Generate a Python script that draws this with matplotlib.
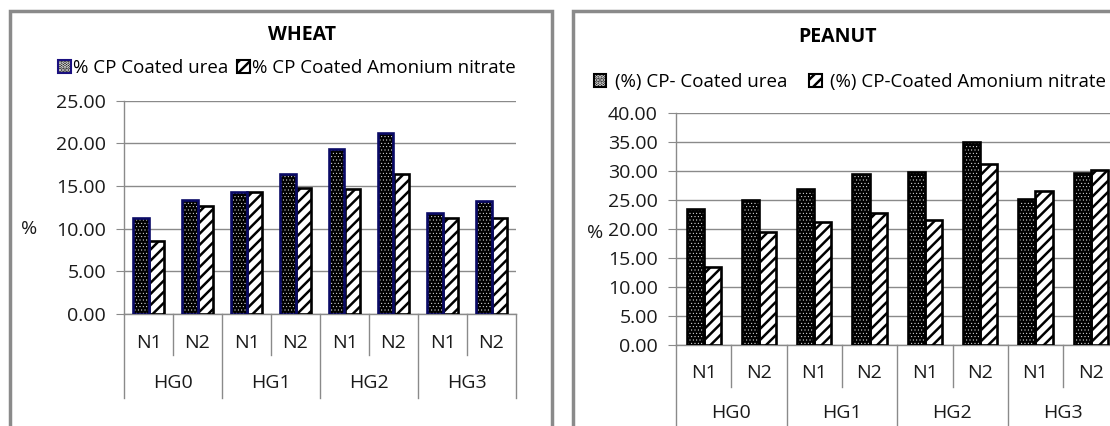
import numpy as np
import matplotlib
matplotlib.use('Agg')
import matplotlib.pyplot as plt
import matplotlib.patches as mpatches
from matplotlib.lines import Line2D

plt.rcParams['font.family'] = ['Open Sans', 'DejaVu Sans']
plt.rcParams['hatch.linewidth'] = 1.8

# ---- data ----
n_labels = ['N1', 'N2', 'N1', 'N2', 'N1', 'N2', 'N1', 'N2']
hg_labels = ['HG0', 'HG1', 'HG2', 'HG3']

wheat_urea = [11.2, 13.4, 14.3, 16.4, 19.3, 21.2, 11.8, 13.2]
wheat_an = [8.6, 12.7, 14.3, 14.8, 14.6, 16.4, 11.3, 11.3]

peanut_urea = [23.5, 25.0, 26.8, 29.4, 29.8, 35.0, 25.1, 29.6]
peanut_an = [13.4, 19.4, 21.1, 22.7, 21.6, 31.1, 26.6, 30.2]

W, H = 1110, 426
fig = plt.figure(figsize=(W / 100, H / 100), dpi=100)
fig.patch.set_facecolor('white')

def fx(px):
    return px / W

def fy(py):
    return 1 - py / H

GRAY = '#8a8a8a'
FS = 14
LFS = 13.5
TXT = '#1a1a1a'

# chart frames (cut off at bottom / right like the source image)
fig.patches.append(mpatches.Rectangle((fx(10), -0.1), fx(552 - 10), fy(11) + 0.1,
                                      transform=fig.transFigure, fill=False,
                                      edgecolor=GRAY, linewidth=2.5))
fig.patches.append(mpatches.Rectangle((fx(573), -0.1), fx(700), fy(11) + 0.1,
                                      transform=fig.transFigure, fill=False,
                                      edgecolor=GRAY, linewidth=2.5))


def hatch_lw(patches, lw):
    for p in patches:
        if hasattr(p, 'set_hatch_linewidth'):
            p.set_hatch_linewidth(lw)


def draw_panel(rect, urea, an, ymax, urea_edge, sep_short, sep_long, n_off, hg_off):
    ax = fig.add_axes(rect)
    x = np.arange(len(urea)) + 0.5
    bw = 0.31
    dots = ax.bar(x - bw / 2, urea, bw, color='black', edgecolor='white',
                  hatch='.....', linewidth=0, zorder=3)
    hatch_lw(dots, 0.3)
    ax.bar(x - bw / 2, urea, bw, fill=False, edgecolor=urea_edge, linewidth=1.9, zorder=4)
    lines = ax.bar(x + bw / 2, an, bw, facecolor='white', edgecolor='black',
                   hatch='///', linewidth=1.9, zorder=3)
    hatch_lw(lines, 1.8)

    ax.set_xlim(0, len(urea))
    ax.set_ylim(0, ymax)
    ax.set_yticks(np.arange(0, ymax + 0.1, 5))
    ax.set_yticklabels(['%.2f' % v for v in np.arange(0, ymax + 0.1, 5)])
    ax.yaxis.grid(True, color=GRAY, linewidth=1)
    ax.set_axisbelow(True)
    ax.tick_params(axis='y', length=6, color=GRAY, pad=7, labelsize=FS, labelcolor=TXT)
    ax.set_xticks([])
    for s in ['top', 'right']:
        ax.spines[s].set_visible(False)
    for s in ['left', 'bottom']:
        ax.spines[s].set_color(GRAY)
        ax.spines[s].set_linewidth(1)

    tr = ax.get_xaxis_transform()
    for i in range(len(urea) + 1):
        y1 = sep_long if i % 2 == 0 else sep_short
        ax.add_line(Line2D([i, i], [0, y1], transform=tr, color=GRAY,
                           linewidth=1, clip_on=False))
    for i, lab in enumerate(n_labels):
        ax.text(i + 0.5, n_off, lab, transform=tr, ha='center', va='center',
                fontsize=FS, color=TXT)
    for j, lab in enumerate(hg_labels):
        ax.text(2 * j + 1, hg_off, lab, transform=tr, ha='center', va='center',
                fontsize=FS, color=TXT)
    return ax


# ---- WHEAT ----
wh_h = 314 - 100.7
draw_panel([fx(124), fy(314), fx(516 - 124), wh_h / H], wheat_urea, wheat_an, 25,
           '#0a0a66', -41 / wh_h, -84 / wh_h, -29 / wh_h, -69 / wh_h)
fig.text(fx(302), fy(35), 'WHEAT', ha='center', va='center', fontsize=FS, fontweight='bold')
fig.text(fx(29), fy(229), '%', ha='center', va='center', fontsize=FS, color=TXT)

urea_h = (mpatches.Patch(facecolor='black', edgecolor='white', hatch='.....', linewidth=0),
          mpatches.Patch(fill=False, edgecolor='#1a1080', linewidth=1.5))
an_h = mpatches.Patch(facecolor='white', edgecolor='black', hatch='///', linewidth=1.5)
fig.legend([urea_h, an_h], ['% CP Coated urea', '% CP Coated Amonium nitrate'],
           loc='center', bbox_to_anchor=(fx(287), fy(68)), ncol=2, frameon=False,
           fontsize=LFS, handlelength=0.7, handleheight=0.7, handletextpad=0.1,
           columnspacing=0.45, borderpad=0, borderaxespad=0)

# ---- PEANUT ----
pn_h = 345 - 112.7
draw_panel([fx(676), fy(345), fx(1118.4 - 676), pn_h / H], peanut_urea, peanut_an, 40,
           'black', -42 / pn_h, -120 / pn_h, -28 / pn_h, -68 / pn_h)
fig.text(fx(838), fy(37), 'PEANUT', ha='center', va='center', fontsize=FS, fontweight='bold')
fig.text(fx(595), fy(233), '%', ha='center', va='center', fontsize=FS, color=TXT)

urea_h2 = (mpatches.Patch(facecolor='black', edgecolor='white', hatch='.....', linewidth=0),
           mpatches.Patch(fill=False, edgecolor='black', linewidth=1.5))
fig.legend([urea_h2, an_h], ['(%) CP- Coated urea', '(%) CP-Coated Amonium nitrate'],
           loc='center', bbox_to_anchor=(fx(850), fy(82)), ncol=2, frameon=False,
           fontsize=LFS, handlelength=0.65, handleheight=0.65, handletextpad=0.45,
           columnspacing=1.2, borderpad=0, borderaxespad=0)

fig.savefig('out.png', dpi=100)
